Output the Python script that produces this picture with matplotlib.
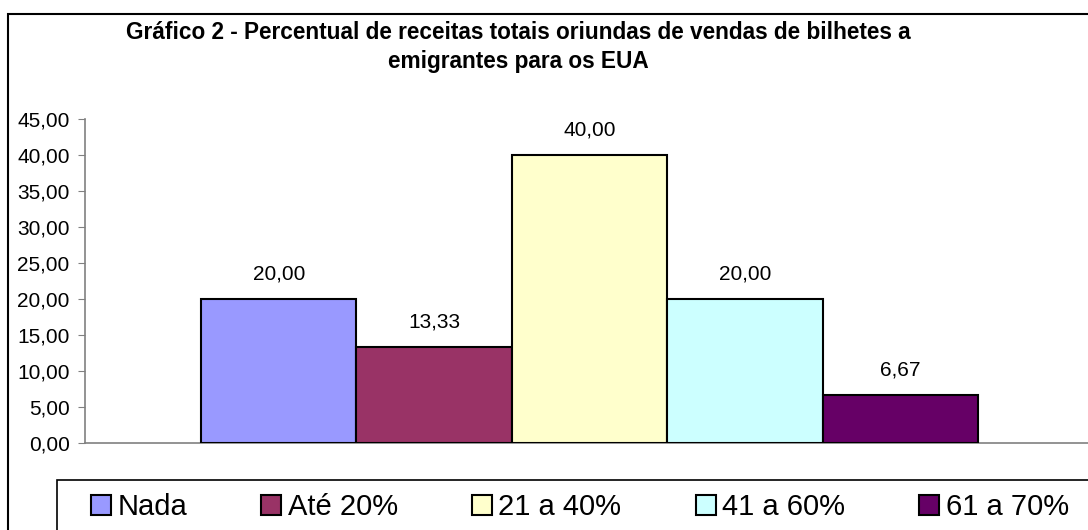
import matplotlib
matplotlib.use("Agg")
import matplotlib.pyplot as plt
from matplotlib.patches import Rectangle, Patch
from matplotlib.ticker import FuncFormatter, MultipleLocator

plt.rcParams['font.family'] = ['Liberation Sans', 'DejaVu Sans']

categories = ["Nada", "Até 20%", "21 a 40%", "41 a 60%", "61 a 70%"]
values = [20.00, 13.33, 40.00, 20.00, 6.67]
colors = ["#9999FF", "#993366", "#FFFFCC", "#CCFFFF", "#660066"]
title = "Gráfico 2 - Percentual de receitas totais oriundas de vendas de bilhetes a\nemigrantes para os EUA"

W, H = 1088, 530
fig = plt.figure(figsize=(W / 100, H / 100), dpi=100)

def fx(px):
    return px / W

def fy(py):
    return 1 - py / H

# outer border (right and bottom edges fall outside the picture)
fig.patches.append(Rectangle((fx(8), fy(14) - 2), 2, 2, transform=fig.transFigure,
                             fill=False, edgecolor='black', linewidth=1.5))

ax_left, ax_right, ax_top, ax_bot = 85, 1094, 119, 443
ax = fig.add_axes([fx(ax_left), fy(ax_bot), fx(ax_right - ax_left), (ax_bot - ax_top) / H])

n = len(values)
bw = 0.154
offsets = [(i - (n - 1) / 2) * bw for i in range(n)]
for off, v, c, lab in zip(offsets, values, colors, categories):
    ax.bar(off, v, width=bw, color=c, edgecolor='black', linewidth=1.5, label=lab, zorder=3)
    ax.annotate(f"{v:.2f}".replace('.', ','), (off, v), xytext=(0, 11), textcoords='offset points',
                ha='center', va='bottom', fontsize=15, color='black')

ax.set_xlim(-0.5, 0.5)
ax.set_ylim(0, 45)
ax.yaxis.set_major_locator(MultipleLocator(5))
ax.yaxis.set_major_formatter(FuncFormatter(lambda y, p: f"{y:.2f}".replace('.', ',')))
ax.set_xticks([])
for s in ['top', 'right']:
    ax.spines[s].set_visible(False)
for s in ['left', 'bottom']:
    ax.spines[s].set_color('#808080')
    ax.spines[s].set_linewidth(1.2)
ax.tick_params(axis='y', direction='out', length=5, color='#808080', labelsize=15, pad=6)
ax.patch.set_alpha(0)

fig.text(fx(518), fy(47), title, ha='center', va='center', fontsize=16.3, fontweight='bold',
         linespacing=1.38)

# legend box (right and bottom edges fall outside the picture)
fig.patches.append(Rectangle((fx(57), fy(480) - 1), 2, 1, transform=fig.transFigure,
                             fill=False, edgecolor='black', linewidth=1.2))
handles = [Patch(facecolor=c, edgecolor='black', linewidth=1.5) for c in colors]
leg = fig.legend(handles, categories, loc='center left', bbox_to_anchor=(fx(91), fy(507)),
                 ncol=5, frameon=False, fontsize=21, handlelength=0.68, handleheight=0.68,
                 handletextpad=0.22, columnspacing=2.55, borderaxespad=0, borderpad=0)

fig.savefig("out.png", dpi=100)
